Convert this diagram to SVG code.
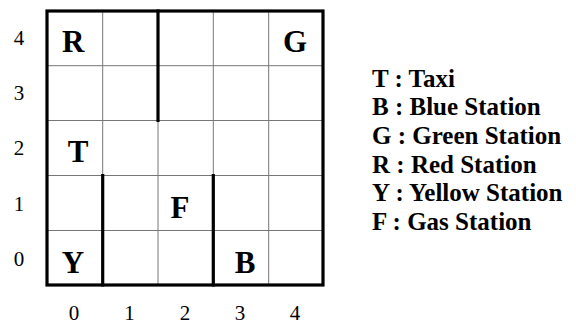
<svg xmlns="http://www.w3.org/2000/svg" width="576" height="324" viewBox="0 0 576 324" font-family="Times New Roman, Liberation Serif, serif">
<style>
.thin{stroke:#777;stroke-width:1;fill:none}
.wall{stroke:#000;stroke-width:3.2;fill:none;stroke-linecap:square}
.cell{font-weight:bold;font-size:31px;text-anchor:middle;fill:#000}
.ax{font-size:21px;text-anchor:middle;fill:#000}
.lg{font-weight:bold;font-size:25px;fill:#000}
</style>
<rect width="576" height="324" fill="#fff"/>
<g id="grid">
<path class="thin" d="M102.7 11V285M158 11V285M213.3 11V285M268.7 11V285M47 65.7H323M47 120.5H323M47 175.5H323M47 230.5H323"/>
<rect class="wall" x="47" y="11" width="276" height="274"/>
</g>
<g id="walls">
<path class="wall" d="M158 11V120.5M102.7 175.5V285M213.3 175.5V285"/>
</g>
<g id="R"><text class="cell" font-family="Times New Roman, serif" x="73.3" y="52.3">R</text></g>
<g id="G"><text class="cell" font-family="Times New Roman, serif" x="295" y="52.3">G</text></g>
<g id="T"><text class="cell" font-family="Times New Roman, serif" x="78" y="162">T</text></g>
<g id="F"><text class="cell" font-family="Times New Roman, serif" x="180" y="218">F</text></g>
<g id="Y"><text class="cell" font-family="Times New Roman, serif" x="73" y="272.5">Y</text></g>
<g id="B"><text class="cell" font-family="Times New Roman, serif" x="245" y="272.5">B</text></g>
<g id="axes" font-family="Times New Roman, serif">
<text class="ax" x="19" y="45">4</text>
<text class="ax" x="19" y="100">3</text>
<text class="ax" x="19" y="155">2</text>
<text class="ax" x="19" y="211">1</text>
<text class="ax" x="19" y="266">0</text>
<text class="ax" x="74" y="320">0</text>
<text class="ax" x="129.5" y="320">1</text>
<text class="ax" x="185" y="320">2</text>
<text class="ax" x="240" y="320">3</text>
<text class="ax" x="295" y="320">4</text>
</g>
<g id="legend" font-family="Times New Roman, serif">
<text class="lg" x="372" y="86.5">T : Taxi</text>
<text class="lg" x="372" y="115.2">B : Blue Station</text>
<text class="lg" x="372" y="143.9">G : Green Station</text>
<text class="lg" x="372" y="172.6">R : Red Station</text>
<text class="lg" x="372" y="201.3">Y : Yellow Station</text>
<text class="lg" x="372" y="230">F : Gas Station</text>
</g>
</svg>
